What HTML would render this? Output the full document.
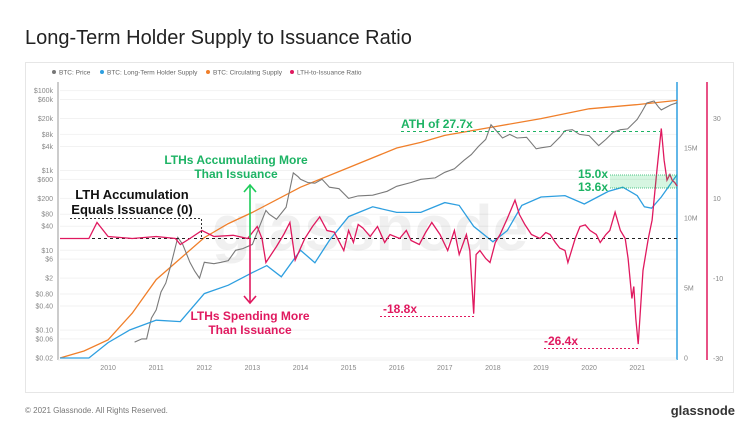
<!DOCTYPE html>
<html><head><meta charset="utf-8"><style>
body{margin:0;background:#fff;font-family:"Liberation Sans",sans-serif;}
#wrap{position:relative;width:752px;height:441px;overflow:hidden;background:#fff}
</style></head><body>
<div id="wrap">
<svg id="svg" width="752" height="441" xmlns="http://www.w3.org/2000/svg" font-family="Liberation Sans, sans-serif">
<text x="25" y="44" font-size="20" fill="#222">Long-Term Holder Supply to Issuance Ratio</text>
<rect x="25.5" y="62.5" width="708" height="330" fill="#fff" stroke="#e6e6e6"/>
<g id="grid"></g>
<text x="370" y="250" font-size="64" font-weight="bold" fill="#000" fill-opacity="0.06" text-anchor="middle">glassnode</text>
<g id="legend"></g>
<g id="axes"></g>
<g id="series"></g>
<g id="annot"></g>
<text x="25" y="413" font-size="8" fill="#777">© 2021 Glassnode. All Rights Reserved.</text>
<text x="735" y="415" font-size="13" font-weight="bold" fill="#333" text-anchor="end">glassnode</text>
</svg>
</div>
<script>
const priceYears=[2010.55,2010.7,2010.8,2010.9,2011.0,2011.1,2011.2,2011.3,2011.45,2011.55,2011.6,2011.7,2011.8,2011.9,2012.0,2012.2,2012.35,2012.5,2012.65,2012.8,2013.0,2013.15,2013.28,2013.35,2013.5,2013.7,2013.85,2013.95,2014.0,2014.15,2014.3,2014.45,2014.6,2014.8,2015.0,2015.2,2015.5,2015.8,2016.0,2016.3,2016.5,2016.8,2017.0,2017.2,2017.4,2017.55,2017.7,2017.85,2017.96,2018.1,2018.2,2018.35,2018.5,2018.7,2018.9,2019.0,2019.2,2019.4,2019.5,2019.65,2019.8,2020.0,2020.2,2020.35,2020.5,2020.65,2020.8,2021.0,2021.1,2021.2,2021.35,2021.45,2021.5,2021.6,2021.7,2021.83];
const priceValues=[0.05,0.06,0.06,0.2,0.32,0.9,1.5,4,21,14,10,5,3,2.0,5,4.6,5,5.5,10,11,14,40,100,80,60,120,870,700,600,500,480,600,380,350,200,230,240,300,400,500,600,650,900,1100,1800,2500,4000,6000,14000,9000,6500,8000,6500,6800,3500,3700,4000,7000,10000,10500,8000,7500,4200,6000,9000,10500,11000,19000,30000,49000,55000,38000,33000,38000,44000,50000];
const supplyYears=[2009.0,2009.5,2010.0,2010.5,2011.0,2012.0,2012.5,2013.0,2014.0,2015.0,2016.0,2016.5,2017.0,2018.0,2019.0,2020.0,2021.0,2021.83];
const supplyValues=[0,0.5,1.3,3.2,5.6,8.6,9.6,10.4,12.2,13.6,15.0,15.4,15.9,16.5,17.1,17.8,18.1,18.4];
const lthYears=[2009.0,2009.6,2010.0,2010.45,2011.0,2011.5,2012.0,2012.5,2013.0,2013.3,2013.6,2014.0,2014.3,2014.6,2015.0,2015.5,2016.0,2016.5,2017.0,2017.3,2017.6,2018.0,2018.3,2018.6,2019.0,2019.5,2019.9,2020.4,2020.7,2021.0,2021.15,2021.3,2021.5,2021.83];
const lthValues=[0,0,1.1,2.0,2.7,2.6,4.6,5.2,6.1,6.6,5.8,7.7,6.8,8.4,10.1,10.8,10.4,10.4,11.1,10.9,9.4,8.3,9.1,10.9,11.5,11.6,11.0,11.9,12.2,11.6,10.8,10.7,11.5,13.1];
const ratioYears=[2009.0,2009.6,2009.77,2010.0,2010.5,2011.0,2011.4,2011.5,2011.7,2011.95,2012.2,2012.6,2012.9,2013.1,2013.2,2013.28,2013.5,2013.65,2013.78,2013.89,2014.09,2014.25,2014.4,2014.55,2014.7,2014.9,2015.0,2015.1,2015.2,2015.3,2015.45,2015.6,2015.75,2015.86,2016.06,2016.2,2016.3,2016.47,2016.6,2016.73,2016.9,2017.06,2017.2,2017.3,2017.45,2017.52,2017.6,2017.65,2017.73,2017.85,2017.94,2018.05,2018.15,2018.3,2018.46,2018.55,2018.67,2018.8,2018.98,2019.1,2019.19,2019.3,2019.39,2019.5,2019.56,2019.71,2019.81,2019.92,2020.02,2020.15,2020.23,2020.35,2020.43,2020.54,2020.65,2020.75,2020.81,2020.89,2020.93,2020.97,2021.02,2021.12,2021.23,2021.31,2021.41,2021.5,2021.56,2021.62,2021.68,2021.73,2021.78,2021.83];
const ratioValues=[0,0,4,0.5,0,0.5,0,-1.5,0,2,0.5,0.8,0,3,0,-6,-2,1,4,-5.4,0,3,5.4,2,1.6,-3,2,-1,3.5,2.6,0.5,3,-1,1,0,2,-0.5,-1.5,1.5,4,1,-3,2,-4,1,-3,-18.8,-4,-3,-5,-6,-1,1,5,9.6,6,3.4,1,0,1.5,1,-1,-2.4,-3,-6,0,3,3.4,2,1,-1,1,2,6.6,2,0,-5,-15,-12,-20,-26.4,-8,0,4.6,17,27.5,19.6,14.6,16,14.5,14,13.1];
const priceTicks=[100000,60000,20000,8000,4000,1000,600,200,80,40,10,6,2,0.8,0.4,0.1,0.06,0.02];
const priceTickLabels=["$100k","$60k","$20k","$8k","$4k","$1k","$600","$200","$80","$40","$10","$6","$2","$0.80","$0.40","$0.10","$0.06","$0.02"];
const supplyTicks=[0,5,10,15];
const supplyTickLabels=["0","5M","10M","15M"];
const ratioTicks=[30,10,-10,-30];
const xTicks=[2010,2011,2012,2013,2014,2015,2016,2017,2018,2019,2020,2021];

const NS="http://www.w3.org/2000/svg";
const X=y=>60+(y-2009)*48.1;
const YP=p=>358-(Math.log10(p)+1.7)*39.9;
const YS=v=>358-v*14;
const YR=r=>238.5-r*4;
function mk(tag,attrs,parent,text){const e=document.createElementNS(NS,tag);for(const k in attrs)e.setAttribute(k,attrs[k]);if(text!==undefined)e.textContent=text;document.getElementById(parent).appendChild(e);return e;}
function path(xs,vs,fx,fy){return xs.map((x,i)=>(i?'L':'M')+fx(x).toFixed(1)+' '+fy(vs[i]).toFixed(1)).join(' ');}

priceTicks.forEach((p,i)=>{
 const g=mk('line',{x1:60,x2:677,y1:YP(p),y2:YP(p),stroke:'#f2f2f2','stroke-width':1},'grid');
 
 
 const t=mk('text',{x:53,y:YP(p)+2.5,'font-size':7,fill:'#888','text-anchor':'end'},'axes',priceTickLabels[i]);
 
 
});
xTicks.forEach(y=>{
 const t=mk('text',{x:X(y),y:370,'font-size':7,fill:'#888','text-anchor':'middle'},'axes',String(y));
 
 
});
supplyTicks.forEach((v,i)=>{
 const t=mk('text',{x:684,y:YS(v)+2.5,'font-size':7,fill:'#888'},'axes',supplyTickLabels[i]);
 
 
});
ratioTicks.forEach(v=>{
 const t=mk('text',{x:713,y:YR(v)+2.5,'font-size':7,fill:'#888'},'axes',String(v));
 
 
});
let a=mk('line',{x1:58,x2:58,y1:82,y2:360,stroke:'#999'},'axes');


a=mk('line',{x1:677,x2:677,y1:82,y2:360,stroke:'#2e9fe0','stroke-width':1.5},'axes');


a=mk('line',{x1:707,x2:707,y1:82,y2:360,stroke:'#e0195f','stroke-width':1.5},'axes');


a=mk('line',{x1:58,x2:677,y1:360,y2:360,stroke:'#eee'},'axes');



let s=mk('path',{d:path(supplyYears,supplyValues,X,YS),fill:'none',stroke:'#f07f2a','stroke-width':1.3},'series');


s=mk('path',{d:path(priceYears,priceValues,X,YP),fill:'none',stroke:'#7a7a7a','stroke-width':1.1},'series');


s=mk('path',{d:path(lthYears,lthValues,X,YS),fill:'none',stroke:'#2e9fe0','stroke-width':1.3},'series');


s=mk('line',{x1:62,x2:677,y1:YR(0),y2:YR(0),stroke:'#222','stroke-dasharray':'3,3','stroke-width':1},'series');


s=mk('path',{d:path(ratioYears,ratioValues,X,YR),fill:'none',stroke:'#e0195f','stroke-width':1.3},'series');



const leg=[["#777","BTC: Price",52],["#2e9fe0","BTC: Long-Term Holder Supply",100],["#f07f2a","BTC: Circulating Supply",206],["#e0195f","LTH-to-Issuance Ratio",290]];
leg.forEach(l=>{
 const c=mk('circle',{cx:l[2]+2,cy:72,r:2,fill:l[0]},'legend');
 
 
 const t=mk('text',{x:l[2]+7,y:74.5,'font-size':6.5,fill:'#666'},'legend',l[1]);
 
 
});

const an=document.getElementById('annot');
an.innerHTML=`
<g>
<text x="132" y="199" font-size="13" font-weight="bold" fill="#111" text-anchor="middle">LTH Accumulation</text>
<text x="132" y="214" font-size="13" font-weight="bold" fill="#111" text-anchor="middle">Equals Issuance (0)</text>
<path d="M70 218.5 H201.5 V238" fill="none" stroke="#333" stroke-dasharray="2,2"/></g>
<g>
<text x="236" y="164" font-size="12" font-weight="bold" fill="#1db364" text-anchor="middle">LTHs Accumulating More</text>
<text x="236" y="178" font-size="12" font-weight="bold" fill="#1db364" text-anchor="middle">Than Issuance</text>
<line x1="250" y1="186" x2="250" y2="238" stroke="#1ecc5a" stroke-width="1.6"/><path d="M244 192 L250 185 L256 192" fill="none" stroke="#1ecc5a" stroke-width="1.6"/></g>
<g>
<line x1="250" y1="238" x2="250" y2="302" stroke="#e0195f" stroke-width="1.6"/><path d="M244 296 L250 303 L256 296" fill="none" stroke="#e0195f" stroke-width="1.6"/>
<text x="250" y="320" font-size="12" font-weight="bold" fill="#e0195f" text-anchor="middle">LTHs Spending More</text>
<text x="250" y="334" font-size="12" font-weight="bold" fill="#e0195f" text-anchor="middle">Than Issuance</text></g>
<g>
<text x="401" y="128" font-size="12" font-weight="bold" fill="#1db364">ATH of 27.7x</text>
<line x1="401" y1="131.5" x2="660" y2="131.5" stroke="#1db364" stroke-dasharray="3,3"/></g>
<g>
<text x="383" y="313" font-size="12" font-weight="bold" fill="#e0195f">-18.8x</text>
<line x1="380" y1="316.5" x2="474" y2="316.5" stroke="#e0195f" stroke-dasharray="2,2"/></g>
<g>
<text x="544" y="345" font-size="12" font-weight="bold" fill="#e0195f">-26.4x</text>
<line x1="544" y1="348.5" x2="638" y2="348.5" stroke="#e0195f" stroke-dasharray="2,2"/></g>
<g>
<rect x="610" y="175" width="67" height="13" fill="#1ecc5a" fill-opacity="0.18"/>
<line x1="610" y1="175" x2="677" y2="175" stroke="#1db364" stroke-dasharray="1,1" stroke-width="0.7"/>
<line x1="610" y1="188" x2="677" y2="188" stroke="#1db364" stroke-dasharray="1,1" stroke-width="0.7"/>
<text x="578" y="178" font-size="12" font-weight="bold" fill="#1db364">15.0x</text>
<text x="578" y="191" font-size="12" font-weight="bold" fill="#1db364">13.6x</text></g>`;
</script>
</body></html>
